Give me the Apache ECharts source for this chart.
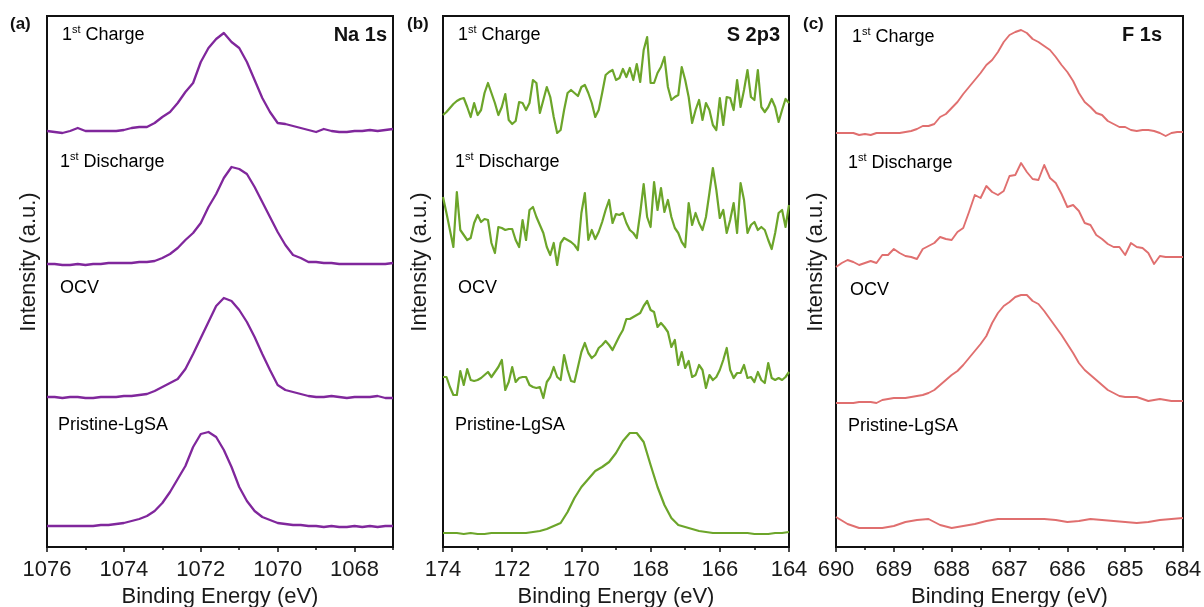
<!DOCTYPE html>
<html><head><meta charset="utf-8">
<script src="https://cdn.jsdelivr.net/npm/echarts@6/dist/echarts.min.js"></script>
<style>html,body{margin:0;padding:0;background:#fff}#c{width:1204px;height:607px}</style>
</head><body><div id="c"></div>
<script>
// ---------- tick labels ----------
const naTicks = [1076, 1074, 1072, 1070, 1068];
const naMinor = [1075, 1073, 1071, 1069, 1067];
const sTicks = [174, 172, 170, 168, 166, 164];
const sMinor = [173, 171, 169, 167, 165];
const fTicks = [690, 689, 688, 687, 686, 685, 684];
const fMinor = [689.5, 688.5, 687.5, 686.5, 685.5, 684.5];

const panelLetters = ['(a)', '(b)', '(c)'];
const panelTitles = ['Na 1s', 'S 2p3', 'F 1s'];
const sampleNames = ['1st Charge', '1st Discharge', 'OCV', 'Pristine-LgSA'];

// ---------- Na 1s: 1076 -> 1067 eV, step 0.2 ----------
const naStart = 1076, naStep = 0.2;
const naCharge = [416,415,414,416,419,416,416,416,416,416,
  417,419,420,420,424,430,435,444,455,464,
  485,499,508,514,505,499,485,467,449,435,
  424,423,421,419,417,415,418,416,415,415,
  416,416,417,416,417,418];
const naDischarge = [283,283,282,282,283,282,283,283,284,284,
  284,284,285,285,286,289,293,299,307,314,
  324,340,353,369,380,378,373,360,345,330,
  315,302,292,289,285,285,284,284,283,283,
  283,283,283,283,283,284];
const naOCV = [150,150,149,150,150,149,149,150,150,150,
  151,151,152,153,156,160,164,168,178,193,
  209,225,241,249,246,237,225,210,193,177,
  162,157,155,153,151,150,150,151,150,149,
  150,150,150,151,149,149];
const naPristine = [21,21,21,21,21,21,21,22,22,23,
  24,26,28,31,36,44,55,68,81,100,
  113,115,110,97,80,60,46,36,30,27,
  24,23,22,22,21,21,20,21,20,20,
  21,20,21,20,21,21];

// ---------- S 2p3: 174 -> 164 eV ----------
const sStart = 174, sStepFine = 0.1, sStepCoarse = 0.2;
const sCharge = [432,435,439,443,446,448,449,440,430,444,
  432,437,454,464,454,444,432,440,453,427,
  423,426,445,444,437,444,467,464,434,447,
  460,450,430,414,417,437,454,457,454,451,
  460,462,454,444,430,437,454,472,475,477,
  467,469,478,470,479,467,483,465,497,510,
  464,464,474,480,490,460,447,450,452,480,
  467,450,424,437,447,427,444,437,422,417,
  449,422,450,449,437,467,440,457,477,450,
  447,477,440,435,440,448,440,425,437,448,
  444];
const sDischarge = [350,334,317,300,355,317,312,307,309,324,
  332,325,328,327,304,294,320,319,317,318,
  318,307,300,327,307,337,340,330,322,314,
  300,292,304,282,304,309,307,305,302,297,
  334,354,307,317,308,315,325,337,347,324,
  333,332,334,324,317,314,309,334,363,330,
  320,365,337,359,335,347,330,319,314,305,
  300,344,322,334,324,317,330,354,379,357,
  329,337,314,327,344,314,364,347,314,322,
  325,317,320,317,307,298,314,334,337,320,
  342];
const sOCV = [170,170,160,152,152,176,162,178,167,166,
  167,169,172,175,170,175,180,187,157,165,
  180,165,169,170,170,162,160,159,160,149,
  165,170,180,170,167,192,177,166,165,180,
  195,204,194,189,192,199,202,206,202,197,
  204,211,217,228,228,230,232,234,241,246,
  237,235,220,224,220,215,200,207,182,195,
  179,186,170,172,182,177,159,172,167,170,
  177,187,199,177,169,174,174,182,169,170,
  165,175,167,164,184,169,167,169,167,170,
  175];
const sPristine = [14,14,14,13,14,13,13,14,14,14,
  14,14,14,15,16,18,21,24,35,49,
  60,68,76,80,85,94,106,114,114,105,
  82,60,42,29,22,20,18,16,15,14,
  14,14,14,14,14,13,13,13,14,14,15];

// ---------- F 1s: 690 -> 684 eV ----------
const fStart = 690, fStepFine = 0.1, fStepCoarse = 0.2;
const fCharge = [414,414,414,414,412,413,412,414,414,414,
  414,414,415,416,418,421,421,423,430,433,
  439,445,453,460,467,474,482,487,495,505,
  512,515,517,514,508,505,501,497,490,482,
  475,466,454,445,440,434,432,426,423,420,
  420,417,416,417,417,416,414,411,414,415,415];
const fDischarge = [280,284,287,285,282,284,286,284,292,292,
  298,294,291,290,288,298,301,304,310,308,
  307,315,319,335,352,349,361,355,352,356,
  371,372,384,375,368,367,382,369,364,353,
  340,342,336,324,322,312,308,303,300,300,
  292,304,300,299,294,283,291,290,290,290,290];
const fOCV = [144,144,144,144,145,145,145,144,147,148,
  149,149,149,150,151,152,154,157,162,167,
  172,176,182,189,196,203,211,224,234,241,
  245,250,252,252,246,243,236,228,220,212,
  203,194,184,177,172,167,162,157,154,151,
  150,150,150,148,146,147,148,147,146,146,146];
const fPristine = [30,23,19,19,19,21,25,27,28,22,
  19,21,23,26,28,28,28,28,28,27,
  25,26,28,27,26,25,24,25,27,28,29];

// ---------- build ----------
const FONT = '"Liberation Sans", Arial, Helvetica, sans-serif';
function pairs(start, step, vals) {
  return vals.map((v, i) => [+(start - i * step).toFixed(3), v]);
}
const panels = [
  { min: 1067, max: 1076, ticks: naTicks, minor: naMinor, color: '#80279c', width: 2.3,
    curves: [pairs(naStart, naStep, naCharge), pairs(naStart, naStep, naDischarge),
             pairs(naStart, naStep, naOCV), pairs(naStart, naStep, naPristine)] },
  { min: 164, max: 174, ticks: sTicks, minor: sMinor, color: '#6ca52a', width: 2.2,
    curves: [pairs(sStart, sStepFine, sCharge), pairs(sStart, sStepFine, sDischarge),
             pairs(sStart, sStepFine, sOCV), pairs(sStart, sStepCoarse, sPristine)] },
  { min: 684, max: 690, ticks: fTicks, minor: fMinor, color: '#e06f6f', width: 1.9,
    curves: [pairs(fStart, fStepFine, fCharge), pairs(fStart, fStepFine, fDischarge),
             pairs(fStart, fStepFine, fOCV), pairs(fStart, fStepCoarse, fPristine)] }
];
const gridLefts = [47, 443, 836];
const gridWidths = [346, 346, 347];

const grid = [], xAxis = [], yAxis = [], series = [], graphic = [];
panels.forEach((p, i) => {
  grid.push({ left: gridLefts[i], top: 16, width: gridWidths[i], height: 531,
    containLabel: false, outerBoundsMode: 'none',
    show: true, borderColor: '#111', borderWidth: 2 });
  xAxis.push({ gridIndex: i, type: 'value', min: p.min, max: p.max, inverse: true, position: 'bottom',
    axisLine: { lineStyle: { color: '#111', width: 2 } },
    axisTick: { customValues: p.ticks, length: 5, lineStyle: { color: '#111', width: 1.5 } },
    axisLabel: { customValues: p.ticks, fontSize: 22, color: '#1a1a1a', margin: 12, fontFamily: FONT,
      formatter: v => String(v) },
    splitLine: { show: false },
    name: 'Binding Energy (eV)', nameLocation: 'middle', nameGap: 33,
    nameTextStyle: { fontSize: 22, color: '#1a1a1a', fontFamily: FONT } });
  xAxis.push({ gridIndex: i, type: 'value', min: p.min, max: p.max, inverse: true, position: 'bottom',
    axisLine: { show: false },
    axisTick: { customValues: p.minor, length: 3, lineStyle: { color: '#111', width: 1.5 } },
    axisLabel: { show: false }, splitLine: { show: false } });
  yAxis.push({ gridIndex: i, type: 'value', min: 0, max: 531, show: false });
  p.curves.forEach(c => {
    series.push({ type: 'line', xAxisIndex: i * 2, yAxisIndex: i, data: c, showSymbol: false,
      symbol: 'none', silent: true, animation: false,
      lineStyle: { color: p.color, width: p.width, join: 'round' } });
  });
});

const letterX = [10, 407, 803];
panelLetters.forEach((t, i) => graphic.push({ type: 'text', x: letterX[i], y: 16,
  style: { text: t, font: 'bold 17px ' + FONT, fill: '#111' } }));
const titleRight = [387, 780, 1162];
panelTitles.forEach((t, i) => graphic.push({ type: 'text', x: titleRight[i], y: 35,
  style: { text: t, font: 'bold 20px ' + FONT, fill: '#111', align: 'right', verticalAlign: 'middle' } }));
const yTitleX = [29, 420, 816];
yTitleX.forEach(x => graphic.push({ type: 'text', x: x, y: 262, rotation: Math.PI / 2,
  style: { text: 'Intensity (a.u.)', font: '22px ' + FONT, fill: '#1a1a1a', align: 'center', verticalAlign: 'middle' } }));

const labelX = [[62, 60, 60, 58], [458, 455, 458, 455], [852, 848, 850, 848]];
const labelY = [[35, 162, 288, 425], [35, 162, 288, 425], [37, 163, 290, 426]];
const rich = {
  n: { fontSize: 18, fontFamily: FONT, color: '#222', lineHeight: 22 },
  s: { fontSize: 11, fontFamily: FONT, color: '#222', verticalAlign: 'top', lineHeight: 12 }
};
labelX.forEach((row, i) => row.forEach((x, j) => {
  const name = sampleNames[j];
  const m = name.match(/^(\d)(st)(.*)$/);
  const txt = m ? '{n|' + m[1] + '}{s|' + m[2] + '}{n|' + m[3] + '}' : '{n|' + name + '}';
  graphic.push({ type: 'text', x: x, y: labelY[i][j],
    style: { text: txt, rich: rich, verticalAlign: 'middle', align: 'left' } });
}));

const chart = echarts.init(document.getElementById('c'), null, { renderer: 'canvas' });
chart.setOption({ animation: false, backgroundColor: '#fff', grid, xAxis, yAxis, series, graphic });
</script></body></html>
